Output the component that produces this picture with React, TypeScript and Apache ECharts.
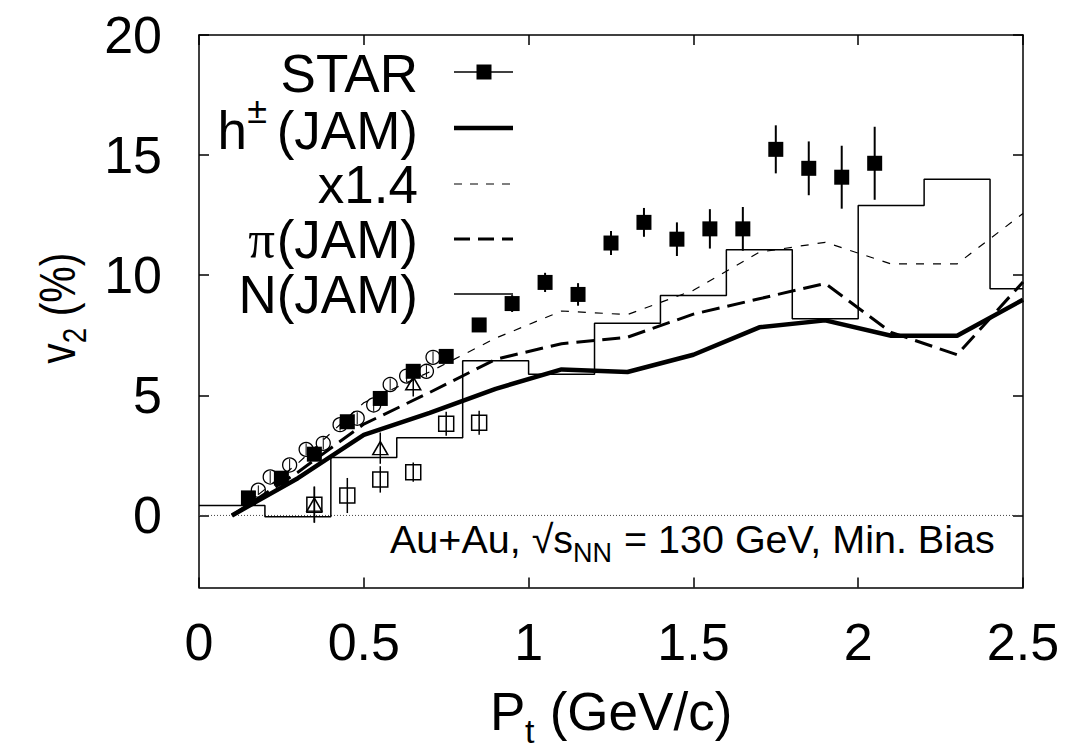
import React, { useEffect, useRef } from "react";
import * as echarts from "echarts";

// ---------- data ----------
const yTickValues = [0, 5, 10, 15, 20];

// STAR filled squares
const starPt = [0.15, 0.25, 0.35, 0.45, 0.55, 0.65, 0.75, 0.85, 0.95, 1.05, 1.15, 1.25, 1.35, 1.45, 1.55, 1.65, 1.75, 1.85, 1.95, 2.05];
const starV2 = [0.73, 1.55, 2.55, 3.9, 4.87, 6.0, 6.62, 7.93, 8.82, 9.7, 9.2, 11.34, 12.2, 11.5, 11.93, 11.93, 15.24, 14.45, 14.08, 14.66];
const starErr = [0.15, 0.15, 0.2, 0.2, 0.2, 0.2, 0.2, 0.25, 0.35, 0.4, 0.47, 0.5, 0.6, 0.7, 0.82, 0.91, 1.0, 1.12, 1.31, 1.52];

// open circles
const circPt = [0.18, 0.216, 0.275, 0.325, 0.377, 0.428, 0.48, 0.53, 0.58, 0.63, 0.69, 0.71];
const circV2 = [1.05, 1.6, 2.1, 2.75, 3.0, 3.78, 4.05, 4.6, 5.45, 5.8, 6.0, 6.58];
const circErr = [0.2, 0.25, 0.25, 0.25, 0.25, 0.25, 0.25, 0.25, 0.25, 0.25, 0.25, 0.25];

// open triangles
const triPt = [0.35, 0.55, 0.65];
const triV2 = [0.45, 2.8, 5.5];
const triErr = [0.75, 0.65, 0.55];

// open squares
const sqPt = [0.35, 0.45, 0.55, 0.65, 0.75, 0.85];
const sqV2 = [0.45, 0.83, 1.5, 1.8, 3.82, 3.86];
const sqErr = [0.75, 0.73, 0.55, 0.4, 0.5, 0.5];

// JAM curves
const jamPt = [0.1, 0.3, 0.5, 0.7, 0.9, 1.1, 1.3, 1.5, 1.7, 1.9, 2.1, 2.3, 2.5];
const hJam = [0.0, 1.55, 3.35, 4.27, 5.27, 6.08, 5.97, 6.69, 7.83, 8.12, 7.48, 7.48, 8.98];
const hJamX14 = [0.0, 2.17, 4.69, 5.98, 7.38, 8.51, 8.36, 9.37, 10.96, 11.37, 10.47, 10.47, 12.57];
const piJam = [0.0, 1.8, 3.8, 5.12, 6.5, 7.15, 7.42, 8.38, 9.02, 9.66, 7.62, 6.69, 9.72];

// N(JAM) histogram
const nEdges = [0, 0.2, 0.4, 0.6, 0.8, 1.0, 1.2, 1.4, 1.6, 1.8, 2.0, 2.2, 2.4, 2.5];
const nVals = [0.41, -0.05, 2.41, 3.23, 6.44, 5.88, 8.0, 9.16, 11.06, 8.19, 12.9, 14.0, 9.44];

// ---------- helpers ----------
const FONT = "'Liberation Sans', Arial, Helvetica, sans-serif";
const pairs = (xs: number[], ys: number[]) => xs.map((x, i) => [x, ys[i]]);
const triples = (xs: number[], ys: number[], es: number[]) => xs.map((x, i) => [x, ys[i], es[i]]);
const histPoints = () => {
  const pts: number[][] = [];
  nVals.forEach((v, i) => {
    pts.push([nEdges[i], v]);
    pts.push([nEdges[i + 1], v]);
  });
  return pts;
};
const errRender = (lw: number) => (_params: any, api: any) => {
  const x = api.value(0);
  const y = api.value(1);
  const e = api.value(2);
  const a = api.coord([x, y - e]);
  const b = api.coord([x, y + e]);
  return {
    type: "line",
    shape: { x1: a[0], y1: a[1], x2: b[0], y2: b[1] },
    style: { stroke: "#000", lineWidth: lw },
  };
};

const axisLine = { show: true, onZero: false, lineStyle: { color: "#000", width: 1.5 } };
const tickStyle = { show: true, inside: true, length: 10, lineStyle: { color: "#000", width: 1.5 } };

const legendRows = [72, 128, 184, 239, 294];
const LX1 = 454;
const LX2 = 513;
const TXR = 418;
const LFS = 53;

function buildOption() {
  const t = (text: string, x: number, y: number, size: number, align = "right", family = FONT) => ({
    type: "text",
    x,
    y,
    silent: true,
    style: { text, fill: "#000", font: `${size}px ${family}`, align, verticalAlign: "middle" },
  });
  const ln = (y: number, width: number, dash?: number[]) => ({
    type: "line",
    silent: true,
    shape: { x1: LX1, y1: y, x2: LX2, y2: y },
    style: { stroke: "#000", lineWidth: width, lineDash: dash || null },
  });

  const graphic: any[] = [
    // legend
    t("STAR", TXR, legendRows[0] + 1, LFS),
    ln(legendRows[0], 1.5),
    { type: "rect", silent: true, shape: { x: 476.5, y: legendRows[0] - 7.5, width: 15, height: 15 }, style: { fill: "#000" } },
    t("(JAM)", TXR, legendRows[1] + 2, LFS),
    t("\u00b1", 267, legendRows[1] - 18, 36),
    t("h", 247, legendRows[1] + 2, LFS),
    ln(legendRows[1], 4.5),
    t("x1.4", TXR, legendRows[2], LFS),
    ln(legendRows[2], 1.2, [8, 8]),
    t("(JAM)", TXR, legendRows[3], LFS),
    t("\u03c0", 275, legendRows[3], LFS, "right", "'Liberation Serif', 'Times New Roman', serif"),
    ln(legendRows[3], 3, [16, 8]),
    t("N(JAM)", TXR, legendRows[4], LFS),
    ln(legendRows[4], 1.5),
    // annotation
    t("Au+Au, \u221as", 390, 539, 39.5, "left"),
    t("NN", 573, 553, 27, "left"),
    t(" = 130 GeV, Min. Bias", 613, 539, 39.5, "left"),
    // x title
    t("P", 490, 711, 53, "left"),
    t("t", 525, 731, 34, "left"),
    t(" (GeV/c)", 535, 711, 53, "left"),
    // y title (rotated, compressed along reading direction)
    {
      type: "group",
      x: 58,
      y: 308,
      rotation: Math.PI / 2,
      scaleX: 0.82,
      silent: true,
      children: [
        t("v", -68, 0, 50, "left"),
        t("2", -43, 17, 34, "left"),
        t(" (%)", -24, 0, 50, "left"),
      ],
    },
  ];

  const openStyle = { color: "rgba(0,0,0,0)", borderColor: "#000", opacity: 1 };

  return {
    animation: false,
    backgroundColor: "#fff",
    textStyle: { fontFamily: FONT },
    grid: { left: 199, right: 42, top: 35, bottom: 164.5, containLabel: false, outerBoundsMode: "none" },
    xAxis: [
      {
        type: "value",
        position: "bottom",
        min: 0,
        max: 2.5,
        interval: 0.5,
        axisLine,
        axisTick: tickStyle,
        axisLabel: { show: true, color: "#000", fontSize: 52, fontFamily: FONT, margin: 28 },
        splitLine: { show: false },
      },
      {
        type: "value",
        position: "top",
        min: 0,
        max: 2.5,
        interval: 0.5,
        axisLine,
        axisTick: tickStyle,
        axisLabel: { show: false },
        splitLine: { show: false },
      },
    ],
    yAxis: [
      {
        type: "value",
        position: "left",
        min: -3,
        max: 20,
        axisLine,
        axisTick: { ...tickStyle, customValues: yTickValues },
        axisLabel: { show: true, color: "#000", fontSize: 52, fontFamily: FONT, margin: 37, customValues: yTickValues },
        splitLine: { show: false },
      },
      {
        type: "value",
        position: "right",
        min: -3,
        max: 20,
        axisLine,
        axisTick: { ...tickStyle, customValues: yTickValues },
        axisLabel: { show: false },
        splitLine: { show: false },
      },
    ],
    series: [
      {
        type: "line",
        name: "zero",
        data: [[0, 0], [2.5, 0]],
        symbol: "none",
        silent: true,
        lineStyle: { color: "#444", width: 1, type: [1, 2] },
      },
      {
        type: "line",
        name: "N(JAM)",
        data: histPoints(),
        symbol: "none",
        silent: true,
        lineStyle: { color: "#000", width: 1.5 },
      },
      {
        type: "line",
        name: "x1.4",
        data: pairs(jamPt, hJamX14),
        symbol: "none",
        silent: true,
        lineStyle: { color: "#000", width: 1.2, type: [8, 9] },
      },
      {
        type: "line",
        name: "pi(JAM)",
        data: pairs(jamPt, piJam),
        symbol: "none",
        silent: true,
        lineStyle: { color: "#000", width: 3, type: [18, 8] },
      },
      {
        type: "line",
        name: "h(JAM)",
        data: pairs(jamPt, hJam),
        symbol: "none",
        silent: true,
        lineStyle: { color: "#000", width: 4.5 },
      },
      {
        type: "custom",
        name: "circErr",
        renderItem: errRender(1),
        data: triples(circPt, circV2, circErr),
        encode: { x: 0, y: 1 },
        silent: true,
      },
      {
        type: "scatter",
        name: "circles",
        data: pairs(circPt, circV2),
        symbol: "circle",
        symbolSize: 14,
        silent: true,
        itemStyle: { ...openStyle, borderWidth: 1.3 },
      },
      {
        type: "custom",
        name: "triErr",
        renderItem: errRender(1.5),
        data: triples(triPt, triV2, triErr),
        encode: { x: 0, y: 1 },
        silent: true,
      },
      {
        type: "scatter",
        name: "triangles",
        data: pairs(triPt, triV2),
        symbol: "triangle",
        symbolSize: [15, 13],
        silent: true,
        itemStyle: { ...openStyle, borderWidth: 1.5 },
      },
      {
        type: "custom",
        name: "sqErr",
        renderItem: errRender(1.5),
        data: triples(sqPt, sqV2, sqErr),
        encode: { x: 0, y: 1 },
        silent: true,
      },
      {
        type: "scatter",
        name: "squares",
        data: pairs(sqPt, sqV2),
        symbol: "rect",
        symbolSize: 15,
        silent: true,
        itemStyle: { ...openStyle, borderWidth: 1.5 },
      },
      {
        type: "custom",
        name: "starErr",
        renderItem: errRender(2),
        data: triples(starPt, starV2, starErr),
        encode: { x: 0, y: 1 },
        silent: true,
      },
      {
        type: "scatter",
        name: "STAR",
        data: pairs(starPt, starV2),
        symbol: "rect",
        symbolSize: 15,
        silent: true,
        itemStyle: { color: "#000", opacity: 1 },
      },
    ],
    graphic,
  };
}

export default function App() {
  const ref = useRef<HTMLDivElement>(null);
  useEffect(() => {
    if (!ref.current) return;
    const chart = echarts.init(ref.current, null, { renderer: "svg" });
    chart.setOption(buildOption() as any);
    return () => chart.dispose();
  }, []);
  return (
    <div
      ref={ref}
      style={{ position: "fixed", left: 0, top: 0, width: 1065, height: 752, background: "#fff" }}
    />
  );
}
